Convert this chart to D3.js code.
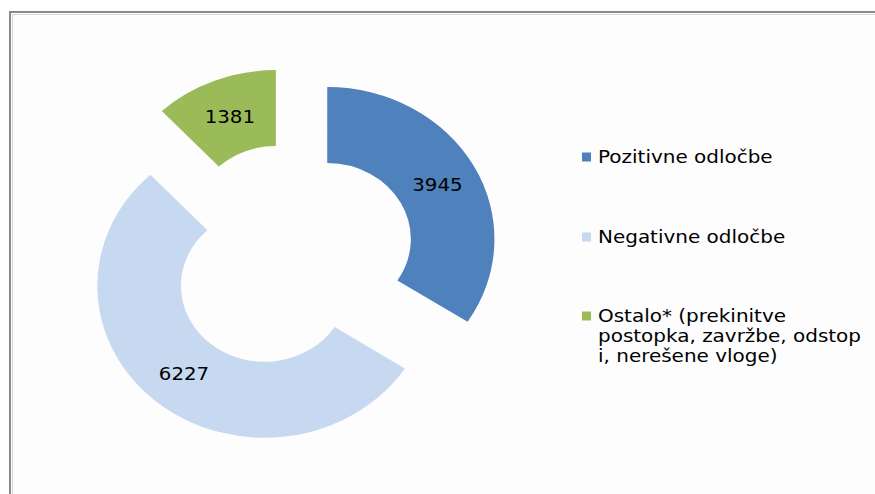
<!DOCTYPE html>
<html>
<head>
<meta charset="utf-8">
<script src="https://cdn.jsdelivr.net/npm/d3@7"></script>
<style>
  html, body { margin: 0; padding: 0; background: #fff; }
  text { font-family: "DejaVu Sans", Verdana, sans-serif; fill: #000; }
</style>
</head>
<body>
<div id="chart"></div>
<script>
const categories = ["Pozitivne odločbe", "Negativne odločbe", "Ostalo* (prekinitve postopka, zavržbe, odstopi, nerešene vloge)"];
const values = [3945, 6227, 1381];
const legendLines = [
  ["Pozitivne odločbe"],
  ["Negativne odločbe"],
  ["Ostalo* (prekinitve", "postopka, zavržbe, odstop", "i, nerešene vloge)"]
];

const colors = ["#4f81bd", "#c6d9f1", "#9bbb59"];

const width = 875;
const height = 494;
const cx = 291, cy = 257;
const stretch = 1.1;
const outerR = 152, innerR = 76, explode = 37.5;

const svg = d3.select("#chart")
  .append("svg")
  .attr("width", width)
  .attr("height", height);

// chart frame
svg.append("rect")
  .attr("x", 10).attr("y", 12)
  .attr("width", width + 20).attr("height", height + 20)
  .attr("fill", "#fdfdfd")
  .attr("stroke", "#8a8a8a")
  .attr("stroke-width", 2);
svg.append("path")
  .attr("d", `M12.5,${height + 10}V14.5H${width + 10}`)
  .attr("fill", "none")
  .attr("stroke", "#d4d4d4")
  .attr("stroke-width", 1);

const data = categories.map((c, i) => ({name: c, value: values[i], color: colors[i]}));

const pie = d3.pie().sort(null).value(d => d.value);
const arc = d3.arc().innerRadius(innerR).outerRadius(outerR);
const arcs = pie(data);

const g = svg.append("g")
  .attr("transform", `translate(${cx},${cy}) scale(${stretch},1)`);

const slice = g.selectAll("g.slice")
  .data(arcs)
  .join("g")
  .attr("class", "slice")
  .attr("transform", d => {
    const a = (d.startAngle + d.endAngle) / 2;
    return `translate(${Math.sin(a) * explode},${-Math.cos(a) * explode})`;
  });

slice.append("path")
  .attr("d", arc)
  .attr("fill", d => d.data.color);

slice.append("text")
  .attr("transform", d => `translate(${arc.centroid(d)})`)
  .attr("text-anchor", "middle")
  .attr("dy", "0.36em")
  .attr("font-size", 18)
  .text(d => d.data.value);

// legend
const legendY = [157, 237, 316];
const legend = svg.append("g")
  .selectAll("g")
  .data(legendLines)
  .join("g")
  .attr("transform", (d, i) => `translate(582,${legendY[i]})`);

legend.append("rect")
  .attr("x", 0).attr("y", -4.5)
  .attr("width", 9).attr("height", 9)
  .attr("fill", (d, i) => colors[i]);

legend.append("text")
  .attr("transform", "translate(16,0) scale(1.11,1)")
  .attr("font-size", 18)
  .selectAll("tspan")
  .data(d => d)
  .join("tspan")
  .attr("x", 0)
  .attr("y", (d, i) => i * 20)
  .attr("dy", "0.36em")
  .text(d => d);
</script>
</body>
</html>
